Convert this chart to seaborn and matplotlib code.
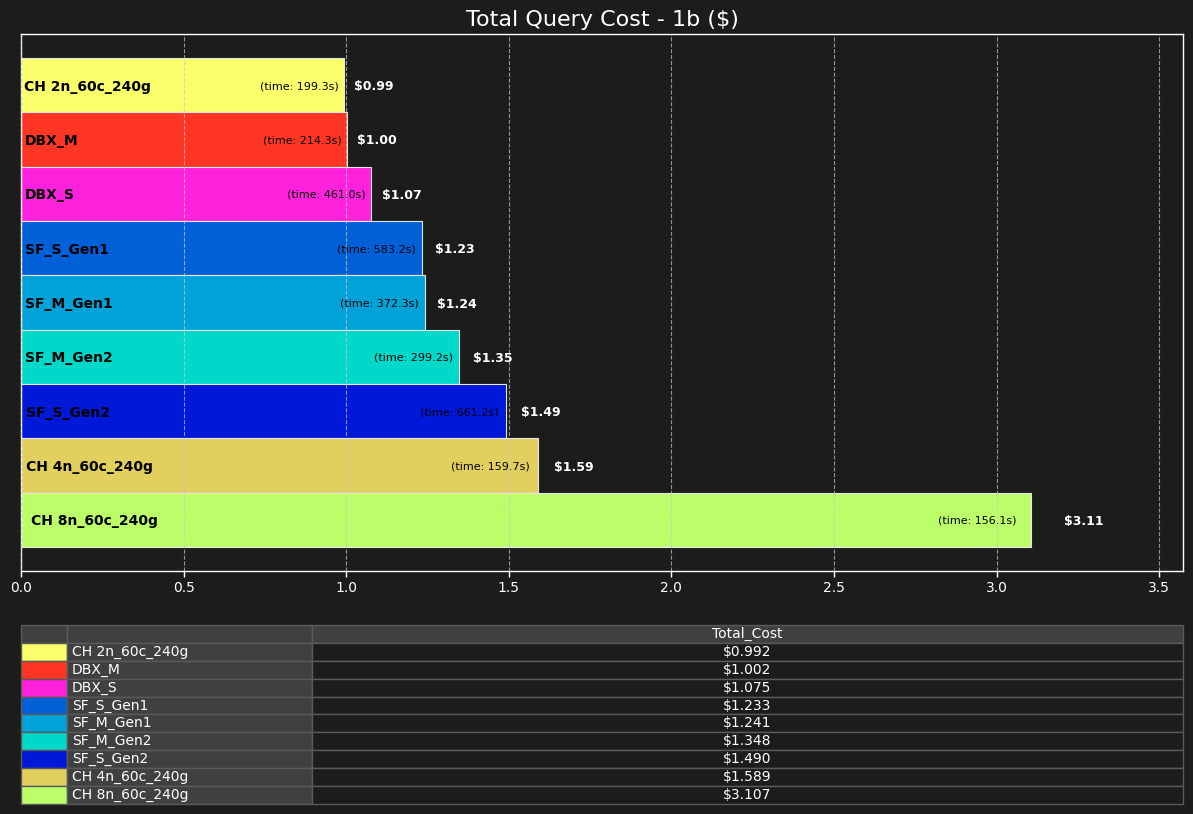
import numpy as np
import pandas as pd
import seaborn as sns
import matplotlib
matplotlib.use("Agg")
import matplotlib.pyplot as plt

# data
systems = ["CH 2n_60c_240g", "DBX_M", "DBX_S", "SF_S_Gen1", "SF_M_Gen1",
           "SF_M_Gen2", "SF_S_Gen2", "CH 4n_60c_240g", "CH 8n_60c_240g"]
total_cost = [0.992, 1.002, 1.075, 1.233, 1.241, 1.348, 1.490, 1.589, 3.107]
query_time = [199.3, 214.3, 461.0, 583.2, 372.3, 299.2, 661.2, 159.7, 156.1]
bar_colors = ["#f9fe6a", "#ff3623", "#ff22dd", "#0060d8", "#00a2d8",
              "#00d8c9", "#0018d8", "#e1d05e", "#bcfe6a"]

bg = "#1c1c1b"
sns.set_theme(style="dark", rc={"figure.facecolor": bg, "axes.facecolor": bg,
                                "savefig.facecolor": bg, "text.color": "white",
                                "xtick.color": "white", "axes.edgecolor": "white"})
plt.rcParams['font.family'] = ['DejaVu Sans']

df = pd.DataFrame({"system": systems, "cost": total_cost, "time": query_time})

fig = plt.figure(figsize=(11.93, 8.14), dpi=100)
ax = fig.add_axes([0.0176, 0.2985, 0.974, 0.6597])

sns.barplot(data=df, y="system", x="cost", hue="system", palette=bar_colors,
            orient="h", width=1, saturation=1, edgecolor="#e6e6e6", linewidth=0.8,
            legend=False, ax=ax)

n = len(systems)
ax.set_ylim(n - 0.5 + 0.44, -0.5 - 0.44)
ax.set_xlim(0, max(total_cost) * 1.15)
ax.set_yticks([])
ax.set_ylabel("")
ax.set_xlabel("")
ax.tick_params(axis="x", colors="white", labelsize=10, length=4, width=1, bottom=True)
for s in ax.spines.values():
    s.set_color("white")
    s.set_linewidth(1)
ax.set_axisbelow(False)
ax.grid(axis="x", color="#c8c8c8", linestyle="--", linewidth=0.8, alpha=0.7)
ax.set_title("Total Query Cost - 1b ($)", color="white", fontsize=16, pad=6)

# labels on bars
for i, (name, c, t) in enumerate(zip(systems, total_cost, query_time)):
    ax.text(c * 0.01, i, name, va="center_baseline", ha="left", fontsize=10,
            fontweight="bold", color="black")
    ax.text(c * 0.985, i, f"(time: {t:.1f}s)", va="center_baseline", ha="right",
            fontsize=8, color="black")
    ax.text(c * 1.032, i, f"${c:.2f}", va="center_baseline", ha="left", fontsize=9,
            fontweight="bold", color="white")

# table below
tax = fig.add_axes([0.0176, 0.0123, 0.974, 0.2199])
tax.axis("off")
cell_text = [["", name, f"${c:.3f}"] for name, c in zip(systems, total_cost)]
tbl = tax.table(cellText=cell_text, colLabels=["", "", "Total_Cost"],
                colWidths=[46 / 1162, 245 / 1162, 871 / 1162],
                cellLoc="center", bbox=[0, 0, 1, 1])
tbl.auto_set_font_size(False)
tbl.set_fontsize(10)
for (r, col), cell in tbl.get_celld().items():
    cell.set_edgecolor("#5a5a5a")
    cell.set_linewidth(1)
    cell.get_text().set_color("white")
    if r == 0:
        cell.set_facecolor("#404040")
    elif col == 0:
        cell.set_facecolor(bar_colors[r - 1])
    elif col == 1:
        cell.set_facecolor("#404040")
        cell.get_text().set_ha("left")
        cell.PAD = 0.02
        cell._loc = "left"
    else:
        cell.set_facecolor(bg)

fig.savefig("out.png", dpi=100, facecolor=bg)
